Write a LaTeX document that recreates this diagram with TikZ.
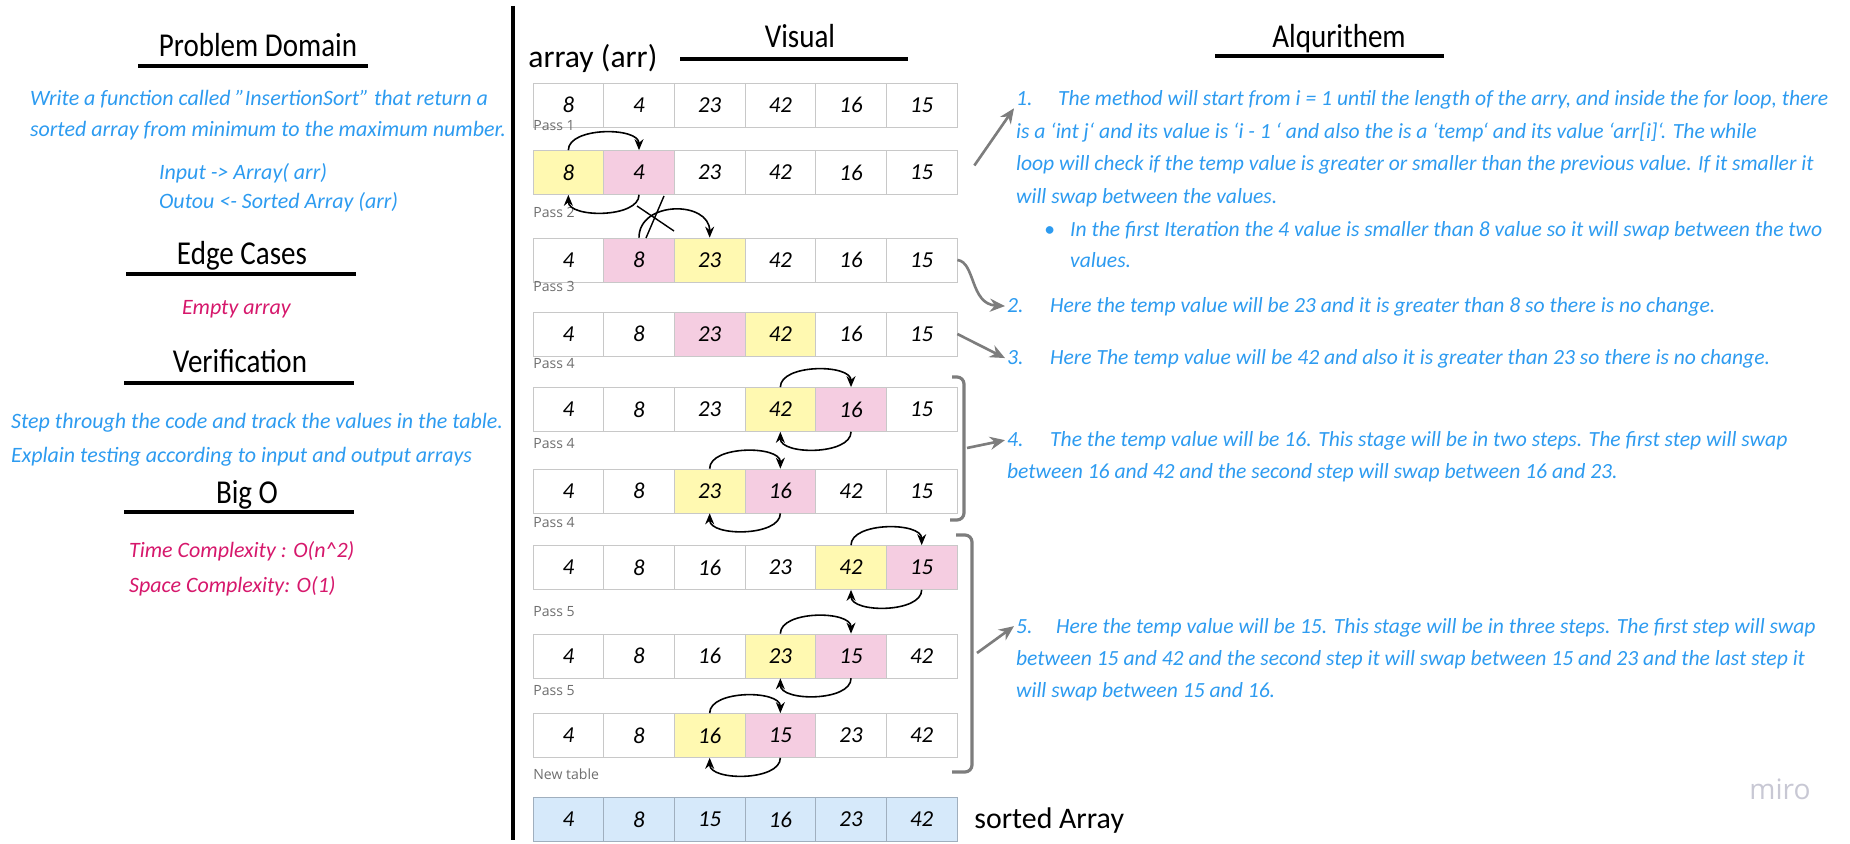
\documentclass[tikz,border=0pt]{standalone}
\usepackage{fontspec}
\setmainfont{Carlito}
\newfontfamily\titlefont[FakeStretch=0.87]{Carlito}
\newfontfamily\passfont{Open Sans}
\usetikzlibrary{arrows.meta}

\definecolor{txtblue}{RGB}{45,155,240}
\definecolor{txtpink}{RGB}{214,24,108}
\definecolor{cyel}{RGB}{255,249,177}
\definecolor{cpink}{RGB}{245,205,225}
\definecolor{cblue}{RGB}{214,233,250}
\definecolor{cellgray}{RGB}{200,200,200}
\definecolor{sortgray}{RGB}{160,175,190}
\definecolor{arrowgray}{RGB}{125,125,125}
\definecolor{passgray}{RGB}{110,110,110}
\definecolor{mirogray}{RGB}{200,200,212}

\begin{document}
\begin{tikzpicture}[x=0.02cm,y=0.02cm,
  cell/.style={draw=cellgray,fill=white,minimum width=1.413cm,minimum height=0.88cm,inner sep=0pt,font=\itshape\fontsize{13}{13}\selectfont},
  sortcell/.style={cell,fill=cblue,draw=sortgray},
  heading/.style={anchor=base,inner sep=0pt,font=\titlefont\fontsize{19}{22}\selectfont},
  subhead/.style={anchor=base west,inner sep=0pt,font=\fontsize{17}{20}\selectfont},
  bluetxt/.style={anchor=base west,inner sep=1pt,text=txtblue,font=\itshape\fontsize{12.5}{14}\selectfont},
  pinktxt/.style={bluetxt,text=txtpink},
  algtxt/.style={anchor=base west,inner sep=1pt,text=txtblue,font=\itshape\fontsize{12.3}{14}\selectfont},
  passlbl/.style={anchor=base west,inner sep=0pt,text=passgray,font=\passfont\fontsize{8}{9}\selectfont},
  uline/.style={line width=2pt},
  swaparrow/.style={line width=0.9pt,-{Stealth[length=2.2mm,width=1.8mm]}},
  grayarrow/.style={draw=arrowgray,line width=1.5pt,-{Stealth[length=3mm,width=2.6mm]}},
  brace/.style={draw=arrowgray,line width=1.8pt,rounded corners=4pt}]

  \useasboundingbox (0,0) rectangle (1850,-844);

  % left column
  \node[heading] (pdom) at (258,-57) {Problem Domain};
  \draw[uline] (138,-66) -- (368,-66);
  \node[bluetxt] (pd1) at (28,-106) {Write a function called "InsertionSort" that return a};
  \node[bluetxt] (pd2) at (28,-137) {sorted array from minimum to the maximum number.};
  \node[bluetxt] (inp) at (157,-180) {Input -> Array( arr)};
  \node[bluetxt] (outp) at (157,-209) {Outou <- Sorted Array (arr)};

  \node[heading] (edge) at (242,-265) {Edge Cases};
  \draw[uline] (126,-274) -- (356,-274);
  \node[pinktxt] (empty) at (180,-315) {Empty array};

  \node[heading] (verif) at (240,-373) {Verification};
  \draw[uline] (124,-383) -- (354,-383);
  \node[bluetxt] (ver1) at (9,-429) {Step through the code and track the values in the table.};
  \node[bluetxt] (ver2) at (9,-463) {Explain testing according to input and output arrays};

  \node[heading] (bigo) at (247,-503) {Big O};
  \draw[uline] (124,-512) -- (354,-512);
  \node[pinktxt] (time) at (127,-558) {Time Complexity : O(n\textasciicircum 2)};
  \node[pinktxt] (space) at (127,-592) {Space Complexity: O(1)};

  \draw[line width=2.3pt] (513,-6) -- (513,-840);

  % visual
  \node[subhead,font=\fontsize{18}{20}\selectfont] (arrlbl) at (528,-68) {array (arr)};
  \node[heading] (visual) at (800,-48) {Visual};
  \draw[uline] (680,-59) -- (908,-59);

  \foreach \v/\f [count=\i] in {8/white,4/white,23/white,42/white,16/white,15/white}
    \node[cell,fill=\f] (r1c\i) at ({497.67+70.67*\i},-105) {\v};
  \foreach \v/\f [count=\i] in {8/cyel,4/cpink,23/white,42/white,16/white,15/white}
    \node[cell,fill=\f] (r2c\i) at ({497.67+70.67*\i},-172.5) {\v};
  \foreach \v/\f [count=\i] in {4/white,8/cpink,23/cyel,42/white,16/white,15/white}
    \node[cell,fill=\f] (r3c\i) at ({497.67+70.67*\i},-260) {\v};
  \foreach \v/\f [count=\i] in {4/white,8/white,23/cpink,42/cyel,16/white,15/white}
    \node[cell,fill=\f] (r4c\i) at ({497.67+70.67*\i},-334) {\v};
  \foreach \v/\f [count=\i] in {4/white,8/white,23/white,42/cyel,16/cpink,15/white}
    \node[cell,fill=\f] (r5c\i) at ({497.67+70.67*\i},-409.5) {\v};
  \foreach \v/\f [count=\i] in {4/white,8/white,23/cyel,16/cpink,42/white,15/white}
    \node[cell,fill=\f] (r6c\i) at ({497.67+70.67*\i},-491) {\v};
  \foreach \v/\f [count=\i] in {4/white,8/white,16/white,23/white,42/cyel,15/cpink}
    \node[cell,fill=\f] (r7c\i) at ({497.67+70.67*\i},-567.5) {\v};
  \foreach \v/\f [count=\i] in {4/white,8/white,16/white,23/cyel,15/cpink,42/white}
    \node[cell,fill=\f] (r8c\i) at ({497.67+70.67*\i},-656) {\v};
  \foreach \v/\f [count=\i] in {4/white,8/white,16/cyel,15/cpink,23/white,42/white}
    \node[cell,fill=\f] (r9c\i) at ({497.67+70.67*\i},-735.5) {\v};
  \foreach \v [count=\i] in {4,8,15,16,23,42}
    \node[sortcell] (r10c\i) at ({497.67+70.67*\i},-819.5) {\v};

  \node[passlbl] (p1) at (533,-131) {Pass 1};
  \node[passlbl] (p2) at (533,-218) {Pass 2};
  \node[passlbl] (p3) at (533,-292) {Pass 3};
  \node[passlbl] (p4a) at (533,-369) {Pass 4};
  \node[passlbl] (p4b) at (533,-449) {Pass 4};
  \node[passlbl] (p4c) at (533,-527) {Pass 4};
  \node[passlbl] (p5a) at (533,-616) {Pass 5};
  \node[passlbl] (p5b) at (533,-695) {Pass 5};
  \node[passlbl] (newt) at (533,-779) {New table};
  \node[subhead] (sorted) at (974,-828) {sorted Array};

  % swaps
  \draw[swaparrow] (r2c1.north) to[out=90,in=90,looseness=0.85] (r2c2.north);
  \draw[swaparrow] (r2c2.south) to[out=-90,in=-90,looseness=0.85] (r2c1.south);
  \draw[swaparrow] (r3c2.north) to[out=90,in=90,looseness=1.35] (r3c3.north);
  \draw[line width=0.8pt] (664,-196) -- (646,-238) (637,-206) -- (674,-231);
  \draw[swaparrow] (r5c4.north) to[out=90,in=90,looseness=0.85] (r5c5.north);
  \draw[swaparrow] (r5c5.south) to[out=-90,in=-90,looseness=0.85] (r5c4.south);
  \draw[swaparrow] (r6c3.north) to[out=90,in=90,looseness=0.85] (r6c4.north);
  \draw[swaparrow] (r6c4.south) to[out=-90,in=-90,looseness=0.85] (r6c3.south);
  \draw[swaparrow] (r7c5.north) to[out=90,in=90,looseness=0.85] (r7c6.north);
  \draw[swaparrow] (r7c6.south) to[out=-90,in=-90,looseness=0.85] (r7c5.south);
  \draw[swaparrow] (r8c4.north) to[out=90,in=90,looseness=0.85] (r8c5.north);
  \draw[swaparrow] (r8c5.south) to[out=-90,in=-90,looseness=0.85] (r8c4.south);
  \draw[swaparrow] (r9c3.north) to[out=90,in=90,looseness=0.85] (r9c4.north);
  \draw[swaparrow] (r9c4.south) to[out=-90,in=-90,looseness=0.85] (r9c3.south);

  % algorithm
  \node[heading] (alg) at (1339,-48) {Alqurithem};
  \draw[uline] (1215,-56) -- (1444,-56);

  \node[algtxt] (n1) at (1014,-106) {1.};
  \node[algtxt] (t1a) at (1056,-106) {The method will start from i = 1 until the length of the arry, and inside the for loop, there};
  \node[algtxt] (t1b) at (1014,-139) {is a `int j` and its value is `i - 1 ` and also the is a `temp` and its value `arr[i]`. The while};
  \node[algtxt] (t1c) at (1014,-171) {loop will check if the temp value is greater or smaller than the previous value. If it smaller it};
  \node[algtxt] (t1d) at (1014,-204) {will swap between the values.};
  \node[algtxt] (bul) at (1042,-237) {\textbullet};
  \node[algtxt] (t1e) at (1068,-237) {In the first Iteration the 4 value is smaller than 8 value so it will swap between the two};
  \node[algtxt] (t1f) at (1068,-268) {values.};
  \node[algtxt] (n2) at (1005,-313) {2.};
  \node[algtxt] (t2) at (1048,-313) {Here the temp value will be 23 and it is greater than 8 so there is no change.};
  \node[algtxt] (n3) at (1005,-365) {3.};
  \node[algtxt] (t3) at (1048,-365) {Here The temp value will be 42 and also it is greater than 23 so there is no change.};
  \node[algtxt] (n4) at (1005,-447) {4.};
  \node[algtxt] (t4a) at (1048,-447) {The the temp value will be 16. This stage will be in two steps. The first step will swap};
  \node[algtxt] (t4b) at (1005,-479) {between 16 and 42 and the second step will swap between 16 and 23.};
  \node[algtxt] (n5) at (1014,-633) {5.};
  \node[algtxt] (t5a) at (1054,-633) {Here the temp value will be 15. This stage will be in three steps. The first step will swap};
  \node[algtxt] (t5b) at (1014,-665) {between 15 and 42 and the second step it will swap between 15 and 23 and the last step it};
  \node[algtxt] (t5c) at (1014,-697) {will swap between 15 and 16.};

  % pointers
  \coordinate (br1) at (967,-448);
  \coordinate (br2) at (977,-653);
  \draw[brace] (952,-377) -| (964,-520) -- (950,-520);
  \draw[brace] (956,-535) -| (972,-772) -- (952,-772);
  \draw[grayarrow] ([shift={(17,7)}]r2c6.east) -- (n1.south west);
  \draw[grayarrow] (r3c6.east) .. controls +(18,-2) and +(-35,2) .. (n2.west);
  \draw[grayarrow] (r4c6.east) -- (n3.west);
  \draw[grayarrow] (br1) -- (n4.west);
  \draw[grayarrow] (br2) -- (n5.west);

  \node[anchor=base west,inner sep=0pt,text=mirogray,font=\passfont\fontsize{16}{18}\selectfont] (miro) at (1749,-799) {miro};
\end{tikzpicture}
\end{document}
